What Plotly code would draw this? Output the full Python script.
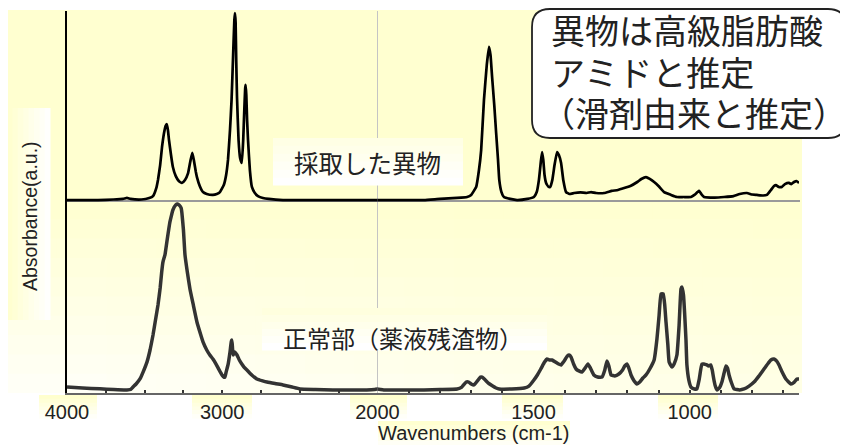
import plotly.graph_objects as go

# ---------------- data ----------------
# Top spectrum: 採取した異物 (wavenumber cm-1, absorbance a.u.)
wn_top = [4000, 3900, 3800, 3700, 3640, 3614, 3590, 3520, 3470, 3446, 3425, 3414, 3400, 3388, 3375,
          3365, 3358, 3350, 3343, 3330, 3318, 3300, 3280, 3260, 3240, 3220, 3205, 3193, 3183, 3170,
          3163, 3145, 3124, 3100, 3060, 3035, 3015, 2990, 2975, 2963, 2950, 2940, 2930, 2922, 2918,
          2914, 2910, 2905, 2895, 2885, 2874, 2865, 2858, 2852, 2849, 2845, 2840, 2834, 2822, 2809,
          2790, 2770, 2738, 2700, 2609, 2500, 2400, 2300, 2200, 2100, 2000, 1900, 1851, 1800, 1745,
          1713, 1700, 1684, 1675, 1668, 1659, 1650, 1643, 1638, 1633, 1626, 1620, 1614, 1610, 1603,
          1595, 1575, 1553, 1520, 1499, 1490, 1483, 1477, 1473, 1469, 1465, 1460, 1452, 1447, 1440,
          1433, 1425, 1419, 1412, 1405, 1396, 1385, 1370, 1350, 1330, 1316, 1300, 1274, 1250, 1230,
          1210, 1190, 1168, 1155, 1140, 1128, 1114, 1100, 1082, 1060, 1041, 1020, 996, 985, 975,
          970, 963, 954, 920, 890, 860, 840, 817, 800, 785, 765, 753, 740, 730, 724,
          715, 705, 695, 682, 675, 666, 658, 650]
abs_top = [0.005, 0.005, 0.005, 0.008, 0.011, 0.016, 0.011, 0.008, 0.016, 0.026, 0.068, 0.111, 0.189, 0.284, 0.358,
           0.395, 0.405, 0.374, 0.321, 0.242, 0.179, 0.132, 0.105, 0.095, 0.111, 0.147, 0.211, 0.253, 0.216, 0.153,
           0.126, 0.079, 0.047, 0.037, 0.032, 0.037, 0.047, 0.084, 0.137, 0.216, 0.374, 0.532, 0.768, 0.953, 0.989,
           0.942, 0.742, 0.547, 0.321, 0.226, 0.200, 0.321, 0.479, 0.595, 0.611, 0.558, 0.426, 0.321, 0.163, 0.074,
           0.042, 0.026, 0.016, 0.011, 0.005, 0.005, 0.005, 0.005, 0.005, 0.005, 0.005, 0.005, 0.005, 0.011, 0.016,
           0.021, 0.032, 0.074, 0.163, 0.268, 0.532, 0.716, 0.811, 0.768, 0.653, 0.505, 0.358, 0.216, 0.111, 0.047,
           0.021, 0.011, 0.005, 0.011, 0.021, 0.047, 0.111, 0.205, 0.258, 0.216, 0.137, 0.095, 0.074, 0.074, 0.111,
           0.189, 0.258, 0.242, 0.200, 0.111, 0.047, 0.037, 0.042, 0.045, 0.042, 0.047, 0.042, 0.042, 0.053, 0.058,
           0.068, 0.079, 0.100, 0.116, 0.126, 0.116, 0.100, 0.079, 0.047, 0.032, 0.021, 0.021, 0.021, 0.032, 0.047,
           0.053, 0.037, 0.021, 0.018, 0.021, 0.026, 0.037, 0.042, 0.034, 0.032, 0.029, 0.032, 0.058, 0.079, 0.084,
           0.074, 0.074, 0.089, 0.095, 0.089, 0.100, 0.105, 0.095]

# Bottom spectrum: 正常部（薬液残渣物）
wn_bot = [4000, 3900, 3788, 3700, 3614, 3590, 3575, 3555, 3530, 3510, 3485, 3465, 3446, 3430, 3414,
          3400, 3390, 3382, 3375, 3369, 3355, 3337, 3325, 3318, 3300, 3288, 3278, 3265, 3260, 3250,
          3240, 3225, 3208, 3185, 3163, 3140, 3124, 3100, 3080, 3060, 3040, 3020, 3002, 2990, 2983,
          2975, 2963, 2950, 2942, 2938, 2934, 2930, 2920, 2905, 2890, 2874, 2860, 2841, 2810, 2777,
          2740, 2712, 2660, 2609, 2550, 2500, 2400, 2287, 2200, 2070, 2020, 2000, 1980, 1900, 1851,
          1800, 1745, 1730, 1716, 1708, 1700, 1691, 1680, 1670, 1665, 1655, 1645, 1636, 1620, 1610,
          1570, 1530, 1515, 1499, 1488, 1477, 1465, 1457, 1449, 1441, 1430, 1420, 1412, 1400, 1392,
          1386, 1380, 1372, 1364, 1355, 1345, 1335, 1326, 1318, 1307, 1295, 1281, 1272, 1265, 1259,
          1252, 1240, 1227, 1215, 1208, 1201, 1195, 1188, 1178, 1169, 1160, 1150, 1140, 1128, 1114,
          1105, 1098, 1092, 1085, 1080, 1076, 1070, 1066, 1057, 1050, 1041, 1034, 1028, 1025, 1020,
          1016, 1012, 1009, 1003, 996, 985, 977, 970, 965, 961, 955, 945, 940, 933, 928,
          923, 918, 913, 905, 897, 890, 884, 879, 874, 866, 858, 840, 826, 810, 794,
          778, 762, 748, 740, 730, 722, 714, 704, 692, 676, 665, 657, 650]
abs_bot = [0.031, 0.026, 0.022, 0.018, 0.016, 0.018, 0.031, 0.047, 0.073, 0.109, 0.161, 0.224, 0.302, 0.380, 0.458,
           0.547, 0.630, 0.682, 0.703, 0.719, 0.797, 0.891, 0.932, 0.953, 0.979, 0.984, 0.979, 0.964, 0.938, 0.849,
           0.719, 0.630, 0.542, 0.453, 0.370, 0.307, 0.266, 0.224, 0.198, 0.177, 0.151, 0.120, 0.094, 0.083, 0.083,
           0.109, 0.146, 0.214, 0.266, 0.276, 0.234, 0.198, 0.214, 0.198, 0.172, 0.151, 0.135, 0.120, 0.094, 0.073,
           0.063, 0.057, 0.049, 0.042, 0.031, 0.021, 0.018, 0.016, 0.016, 0.016, 0.018, 0.021, 0.016, 0.016, 0.016,
           0.018, 0.021, 0.031, 0.057, 0.057, 0.047, 0.042, 0.063, 0.083, 0.083, 0.068, 0.052, 0.042, 0.026, 0.021,
           0.021, 0.026, 0.036, 0.068, 0.094, 0.125, 0.161, 0.177, 0.172, 0.172, 0.161, 0.151, 0.146, 0.172, 0.193,
           0.198, 0.187, 0.151, 0.125, 0.115, 0.109, 0.130, 0.151, 0.130, 0.094, 0.083, 0.083, 0.120, 0.167, 0.141,
           0.094, 0.089, 0.099, 0.120, 0.141, 0.151, 0.130, 0.094, 0.063, 0.047, 0.057, 0.078, 0.094, 0.125, 0.172,
           0.281, 0.406, 0.516, 0.516, 0.458, 0.370, 0.250, 0.161, 0.135, 0.151, 0.198, 0.354, 0.542, 0.552, 0.510,
           0.406, 0.276, 0.146, 0.068, 0.031, 0.021, 0.021, 0.068, 0.120, 0.151, 0.151, 0.146, 0.141, 0.146, 0.120,
           0.073, 0.036, 0.016, 0.026, 0.057, 0.104, 0.141, 0.130, 0.094, 0.052, 0.021, 0.016, 0.021, 0.036, 0.057,
           0.089, 0.125, 0.156, 0.172, 0.177, 0.167, 0.146, 0.109, 0.073, 0.047, 0.057, 0.073, 0.073]

# axis ticks
ticks_hi = [4000, 3750, 3500, 3250, 3000, 2750, 2500, 2250]
ticks_hi_text = ["4000", "", "", "", "3000", "", "", ""]
ticks_lo = [2000, 1900, 1800, 1700, 1600, 1500, 1400, 1300, 1200, 1100, 1000, 900, 800, 700]
ticks_lo_text = ["2000", "", "", "", "", "1500", "", "", "", "", "1000", "", "", ""]

label_top = "採取した異物"
label_bot = "正常部（薬液残渣物）"
callout_lines = ["異物は高級脂肪酸", "アミドと推定", "（滑剤由来と推定）"]
x_title = "Wavenumbers (cm-1)"
y_title = "Absorbance(a.u.)"

# ---------------- layout geometry (pixels of the 848x445 page) ----------------
W, H = 848, 445
OFF = 8  # default page margin in front of the plot div
L, R, T, B = 67, 799, 11, 393
PW, PH = R - L, B - T


def px(x):
    return (x - L) / PW


def py(y):
    return (B - y) / PH


XBREAK = 377.5
LATIN = "Liberation Sans, Arial, sans-serif"
CJK = "Noto Sans CJK JP, sans-serif"

fig = go.Figure()

line_top = dict(color="#000000", width=2.7, shape="spline", smoothing=0.35)
line_bot = dict(color="#333333", width=3.5, shape="spline", smoothing=0.35)
for xa in ("x", "x2"):
    fig.add_trace(go.Scatter(x=wn_bot, y=abs_bot, mode="lines", line=line_bot,
                             xaxis=xa, yaxis="y", showlegend=False, hoverinfo="skip"))
    fig.add_trace(go.Scatter(x=wn_top, y=abs_top, mode="lines", line=line_top,
                             xaxis=xa, yaxis="y2", showlegend=False, hoverinfo="skip"))

shapes = []


def rect(x0, x1, y0, y1, col):
    shapes.append(dict(type="rect", xref="paper", yref="paper",
                       x0=px(x0), x1=px(x1), y0=py(y0), y1=py(y1),
                       fillcolor=col, line=dict(width=0), layer="below"))


def ycol(t):
    t = max(0.0, min(1.15, t))
    b = int(round(255 - 47 * t))
    return f"rgb(255,255,{b})"


# main pale yellow background (vertical/diagonal fade)
rect(7, 802, 10, 201, ycol(1.0))
nx, ny = 16, 10
for i in range(nx):
    for j in range(ny):
        x0 = 7 + (802 - 7) * i / nx
        x1 = 7 + (802 - 7) * (i + 1) / nx
        y0 = 200 + (393 - 200) * j / ny
        y1 = 200 + (393 - 200) * (j + 1) / ny
        u = max(0.0, min(1.0, ((x0 + x1) / 2 - 67) / 733))
        v = ((y0 + y1) / 2 - 200) / 193
        t = 1 - 0.85 * v * (1 - 0.45 * u)
        rect(x0, min(x1 + 1, 802), y0, min(y1 + 1, 393), ycol(t))

# y-title box: yellow left -> white right
n = 8
for i in range(n):
    x0 = 7 + 43 * i / n
    x1 = 7 + 43 * (i + 1) / n
    rect(x0, x1 + 0.5, 108, 320, ycol(1.0 - i / (n - 1) * 0.95))


def vbox(x0, x1, y0, y1, t0, t1, n=6):
    for k in range(n):
        a = y0 + (y1 - y0) * k / n
        b = y0 + (y1 - y0) * (k + 1) / n
        rect(x0, x1, a, b + 0.5, ycol(t0 + (t1 - t0) * k / (n - 1)))


# tick label boxes and x-title box
for (a, b) in [(39, 97), (192, 252), (350, 407), (502, 563), (658, 718)]:
    vbox(a, b, 395, 418, 1.05, 0.15)
vbox(378, 570, 421, 445, 1.0, 0.2)

# 2000 grid line
shapes.append(dict(type="line", xref="paper", yref="paper", x0=px(XBREAK), x1=px(XBREAK),
                   y0=py(T), y1=py(B), line=dict(color="#c4c4c4", width=1), layer="below"))

# label boxes
vbox(273, 463, 138, 185, 0.55, 0.0)
vbox(262, 547, 308, 350, 0.7, 0.0)

# baseline of the upper spectrum
shapes.append(dict(type="line", xref="paper", yref="y2", x0=0, x1=px(800), y0=0, y1=0,
                   line=dict(color="#9a9a9a", width=2), layer="below"))

# rounded callout box
cx0, cx1, cy0, cy1, r = 532, 846, 9, 138, 18


def P(x, y):
    return f"{px(x):.5f},{py(y):.5f}"


path = (f"M {P(cx0 + r, cy0)} L {P(cx1 - r, cy0)} Q {P(cx1, cy0)} {P(cx1, cy0 + r)} "
        f"L {P(cx1, cy1 - r)} Q {P(cx1, cy1)} {P(cx1 - r, cy1)} "
        f"L {P(cx0 + r, cy1)} Q {P(cx0, cy1)} {P(cx0, cy1 - r)} "
        f"L {P(cx0, cy0 + r)} Q {P(cx0, cy0)} {P(cx0 + r, cy0)} Z")
shapes.append(dict(type="path", xref="paper", yref="paper", path=path,
                   fillcolor="white", line=dict(color="#222222", width=1.8), layer="above"))

CF = dict(family=CJK, size=34, color="#222")
annotations = [
    dict(text=y_title, x=px(30), y=py(216), textangle=-90, font=dict(family=LATIN, size=19.5, color="#222")),
    dict(text=x_title, x=px(474), y=py(433), font=dict(family=LATIN, size=20, color="#222")),
    dict(text=label_top, x=px(292), y=py(162), xanchor="left", font=dict(family=CJK, size=24.5, color="#222")),
    dict(text=label_bot, x=px(281), y=py(337), xanchor="left", font=dict(family=CJK, size=24, color="#222")),
    dict(text=callout_lines[0], x=px(549), y=py(29.5), xanchor="left", font=CF),
    dict(text=callout_lines[1], x=px(549), y=py(71), xanchor="left", font=CF),
    dict(text=callout_lines[2], x=px(539), y=py(112.5), xanchor="left", font=CF),
]
for a in annotations:
    a.update(xref="paper", yref="paper", showarrow=False)
    a.setdefault("xanchor", "center")
    a.setdefault("yanchor", "middle")

xcommon = dict(showgrid=False, zeroline=False, showline=True, linecolor="#666666", linewidth=2,
               ticks="inside", ticklen=3, tickwidth=2, tickcolor="#333333", anchor="y",
               tickfont=dict(family=LATIN, size=20, color="#222"), tickmode="array")
ycommon = dict(showgrid=False, zeroline=False, showline=True, linecolor="#000000", linewidth=2,
               ticks="", showticklabels=False, anchor="x")

fig.update_layout(
    width=W - OFF, height=H - OFF, autosize=False,
    margin=dict(l=L - OFF, r=W - R, t=T - OFF, b=H - B, pad=0),
    paper_bgcolor="white", plot_bgcolor="rgba(0,0,0,0)",
    xaxis=dict(domain=[0, px(XBREAK)], range=[4000, 2000], tickvals=ticks_hi, ticktext=ticks_hi_text, **xcommon),
    xaxis2=dict(domain=[px(XBREAK), 1], range=[2000, 650], tickvals=ticks_lo, ticktext=ticks_lo_text, **xcommon),
    yaxis=dict(domain=[0, py(201)], range=[0, 1], **ycommon),
    yaxis2=dict(domain=[py(206.7), 1], range=[-0.03, 1.0], **ycommon),
    shapes=shapes, annotations=annotations, showlegend=False,
)

fig.write_html("out.html")
